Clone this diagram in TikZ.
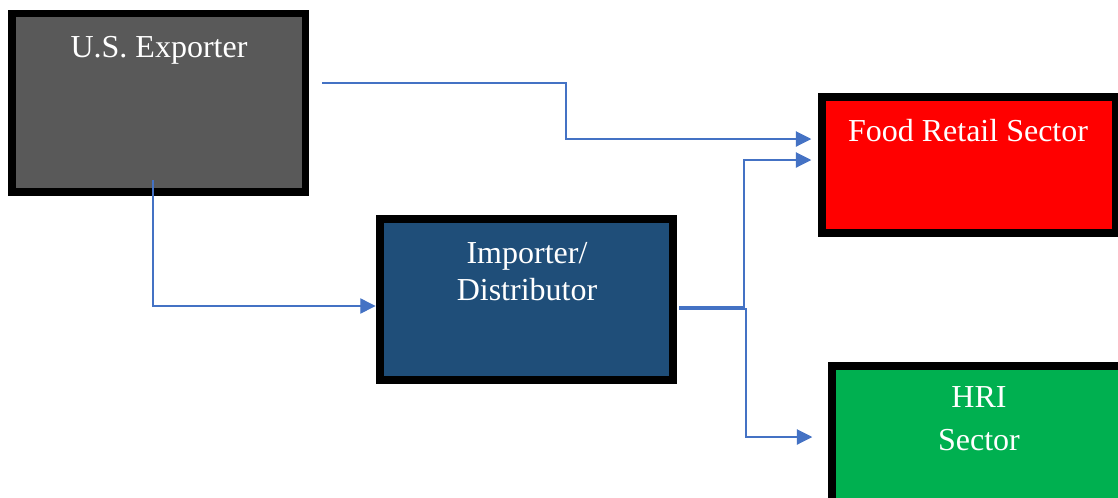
\documentclass[tikz,border=0pt]{standalone}
\usepackage{fontspec}
\setmainfont{Liberation Serif}
\usetikzlibrary{arrows.meta}
\definecolor{exportgray}{HTML}{595959}
\definecolor{importblue}{HTML}{1F4E79}
\definecolor{retailred}{HTML}{FF0000}
\definecolor{hrigreen}{HTML}{00B050}
\definecolor{flowblue}{HTML}{4472C4}
\tikzset{
  box/.style={draw=black, line width=7.5*0.75pt, inner sep=0pt, rectangle},
  boxtext/.style={text=white, font=\fontsize{24}{28}\selectfont, anchor=base, inner sep=0pt},
  flow/.style={draw=flowblue, line width=0.8pt, -{Triangle[length=11.5pt,width=11.5pt]}}
}
\begin{document}
\begin{tikzpicture}[x=0.75pt, y=-0.75pt]
  \useasboundingbox (0,0) rectangle (1118,497);
  \clip (0,0) rectangle (1118,497);
  \fill[white] (0,0) rectangle (1118,497);

  % boxes
  \node[box, fill=exportgray, minimum width=293.5*0.75pt, minimum height=178.5*0.75pt] (exp) at (158.75,102.75) {};
  \node[box, fill=importblue, minimum width=293*0.75pt, minimum height=161*0.75pt] (imp) at (526.5,299.5) {};
  \node[box, fill=retailred, minimum width=294*0.75pt, minimum height=136*0.75pt] (food) at (969,165) {};
  \node[box, fill=hrigreen, minimum width=294*0.75pt, minimum height=136*0.75pt] (hri) at (979,434) {};

  % labels
  \node[boxtext] (expT) at (159,57) {U.S. Exporter};
  \node[boxtext] (impT1) at (527,263) {Importer/};
  \node[boxtext] (impT2) at (527,300) {Distributor};
  \node[boxtext] (foodT) at (968,141) {Food Retail Sector};
  \node[boxtext] (hriT1) at (979,407) {HRI};
  \node[boxtext] (hriT2) at (979,450) {Sector};

  % connector start points
  \coordinate (e1) at (322,83);
  \coordinate (e2) at (153,180);
  \coordinate (i1) at (679,307);
  \coordinate (i2) at (679,309);

  % connectors
  \draw[flow, shorten >=5.25pt] (e1) -| (566,139) -- (food.west |- 0,139);
  \draw[flow, shorten >=0.5pt] (e2) |- (imp.west |- 0,306);
  \draw[flow, shorten >=5.25pt] (i1) -| (744,160) -- (food.west |- 0,160);
  \draw[flow, shorten >=12pt] (i2) -| (746,437) -- (hri.west |- 0,437);
\end{tikzpicture}
\end{document}
